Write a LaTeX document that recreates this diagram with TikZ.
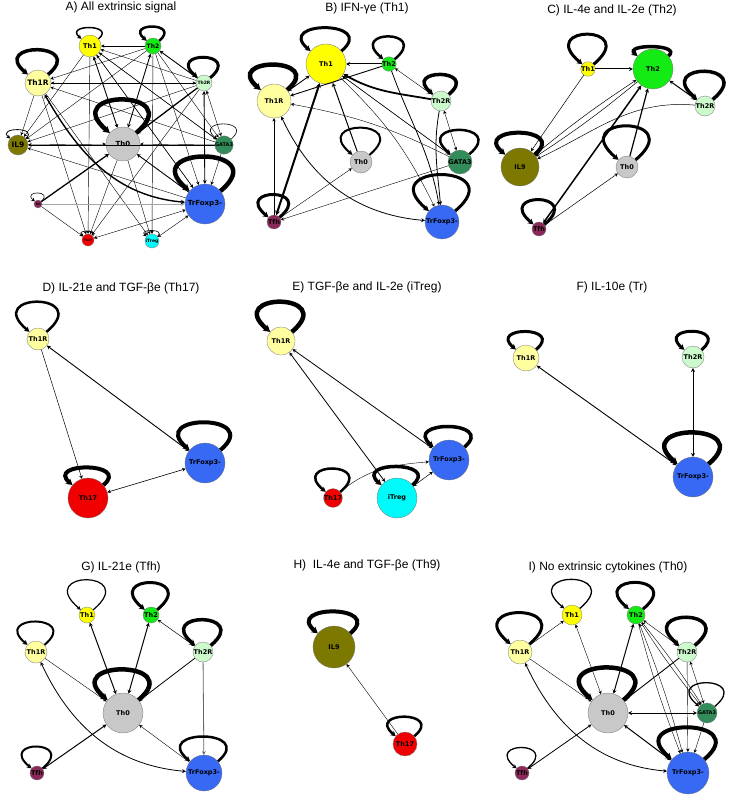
\documentclass[tikz,border=0pt]{standalone}
\usepackage{fontspec}
\setmainfont{Liberation Sans}
\newfontfamily\nodefont{DejaVu Sans}
\usetikzlibrary{arrows.meta}
\definecolor{cTh1}{RGB}{255,255,0}
\definecolor{cTh2}{RGB}{20,235,20}
\definecolor{cThIR}{RGB}{255,255,160}
\definecolor{cThIIR}{RGB}{205,250,205}
\definecolor{cIL9}{RGB}{125,120,0}
\definecolor{cTh0}{RGB}{200,200,200}
\definecolor{cGATA}{RGB}{50,140,90}
\definecolor{cTr}{RGB}{55,105,245}
\definecolor{cTfh}{RGB}{140,40,90}
\definecolor{cTh17}{RGB}{240,0,0}
\definecolor{cTreg}{RGB}{0,250,250}
\tikzset{
  cell/.style={circle, draw=black!55, line width=0.3pt, inner sep=0pt, minimum size=#1,
    font=\nodefont\bfseries\fontsize{6.5}{7}\selectfont},
  lbl/.style={font=\nodefont\bfseries\fontsize{#1}{#1}\selectfont},
  ttl/.style={font=\fontsize{12}{14}\selectfont},
  lnk/.style={line width=#1, ->},
  both/.style={line width=#1, <->},
  self/.style 2 args={line width=#1, out=40, in=140, distance=#2, ->},
}
\begin{document}
\begin{tikzpicture}[x=1pt, y=-1pt, >={Stealth[length=3pt 0.8, width=3pt 1]}]
\useasboundingbox (0,0) rectangle (730,800);

% A) all extrinsic signal
\node[ttl] (a-title) at (121,7) {A) All extrinsic signal};
\node[cell=22pt, fill=cTh1] (a-th1) at (90,46) {Th1};
\node[cell=16pt, fill=cTh2, lbl=6] (a-th2) at (153,46) {Th2};
\node[cell=26pt, fill=cThIR, lbl=7.5] (a-th1r) at (38,83) {Th1R};
\node[cell=16pt, fill=cThIIR, lbl=4.5] (a-th2r) at (204,83) {Th2R};
\node[cell=20pt, fill=cIL9, lbl=7.5] (a-il9) at (18,145) {IL9};
\node[cell=34pt, fill=cTh0, lbl=7] (a-th0) at (123,144) {Th0};
\node[cell=16pt, fill=cGATA, lbl=5] (a-gata3) at (224,145) {GATA3};
\node[cell=40pt, fill=cTr, lbl=7] (a-tr) at (205,204) {TrFoxp3-};
\node[cell=8pt, fill=cTfh, lbl=3] (a-tfh) at (38,204) {Tfh};
\node[cell=12pt, fill=cTh17, lbl=3] (a-th17) at (88,240) {Th17};
\node[cell=14pt, fill=cTreg, lbl=4.5] (a-itreg) at (152,241) {iTreg};
\draw[lnk=0.4pt] (a-th2) edge (a-th1) edge (a-th1r) edge (a-il9) edge (a-itreg) edge (a-tr) edge (a-gata3);
\draw[lnk=0.4pt] (a-th2r) edge (a-th1) edge (a-th1r) edge (a-il9) edge (a-th17);
\draw[lnk=0.4pt] (a-gata3) edge (a-th1) edge (a-th1r) edge (a-il9) edge (a-th0) edge (a-tr);
\draw[lnk=0.4pt] (a-th1) edge (a-il9) edge (a-th17) edge (a-tr) edge (a-gata3);
\draw[lnk=0.4pt] (a-th1r) edge (a-il9) edge (a-th17) edge (a-itreg) edge (a-th2r);
\draw[lnk=0.4pt] (a-tr) edge (a-il9) edge (a-th1);
\draw[lnk=0.4pt] (a-th0) edge (a-th17) edge (a-itreg);
\draw[lnk=0.4pt] (a-tfh) edge (a-th17);
\draw[both=0.4pt] (a-il9) edge (a-th0) (a-tr) edge (a-itreg) (a-th2r) edge (a-gata3) (a-th17) edge (a-tr);
\draw[both=0.9pt] (a-th1) edge (a-th0) (a-th2) edge (a-th0) (a-th2r) edge (a-tr);
\draw[lnk=0.9pt] (a-th2r) edge (a-th2) (a-tr) edge (a-th0);
\draw[lnk=1.3pt] (a-th2r) edge (a-th0) (a-tfh) edge (a-th0);
\draw[lnk=1pt, draw=black!35] (a-tfh) -- (a-tr);
\draw[both=1.4pt] (a-th1r) to[out=-60, in=175] (a-tr);
\draw[self={1.5pt}{23pt}] (a-th1) to (a-th1);
\draw[self={2.5pt}{29pt}] (a-th2) to (a-th2);
\draw[self={3.5pt}{51pt}] (a-th1r) to (a-th1r);
\draw[self={3pt}{42pt}] (a-th2r) to (a-th2r);
\draw[self={0.8pt}{18pt}] (a-il9) to (a-il9);
\draw[self={4.5pt}{69pt}] (a-th0) to (a-th0);
\draw[self={0.6pt}{31pt}] (a-gata3) to (a-gata3);
\draw[self={4.5pt}{71pt}] (a-tr) to (a-tr);
\draw[self={0.6pt}{17pt}] (a-tfh) to (a-tfh);
\draw[self={0.6pt}{10pt}] (a-th17) to (a-th17);
\draw[self={0.6pt}{12pt}] (a-itreg) to (a-itreg);

% B) IFN-ye
\node[ttl] (b-title) at (367,8) {B) IFN-γe (Th1)};
\node[cell=40pt, fill=cTh1] (b-th1) at (326,64) {Th1};
\node[cell=14pt, fill=cTh2] (b-th2) at (389,64) {Th2};
\node[cell=34pt, fill=cThIR] (b-th1r) at (274,101) {Th1R};
\node[cell=20pt, fill=cThIIR] (b-th2r) at (441,101) {Th2R};
\node[cell=22pt, fill=cTh0] (b-th0) at (361,162) {Th0};
\node[cell=24pt, fill=cGATA] (b-gata3) at (460,162) {GATA3};
\node[cell=14pt, fill=cTfh] (b-tfh) at (274,222) {Tfh};
\node[cell=34pt, fill=cTr] (b-tr) at (442,222) {TrFoxp3-};
\draw[lnk=1pt] (b-th2) edge (b-th1) (b-th0) edge (b-th1);
\draw[lnk=0.9pt] (b-th2) edge (b-th1r);
\draw[both=0.9pt] (b-th1r) edge (b-th1);
\draw[lnk=1.8pt] (b-th2r) to[out=170, in=-30] (b-th1);
\draw[lnk=0.4pt] (b-th2r) edge (b-th2) (b-gata3) edge (b-th1) (b-gata3) edge (b-tfh)
  (b-tfh) edge (b-th1r) (b-tfh) edge (b-th0) (b-th1) edge (b-gata3);
\draw[lnk=0.4pt] (b-gata3) to[bend right=8] (b-th1r);
\draw[lnk=0.4pt] (b-th1) to[bend left=10] (b-tr);
\draw[both=0.4pt] (b-th2r) edge (b-gata3);
\draw[lnk=0.8pt] (b-th2) to[out=-70, in=100] (b-tr);
\draw[lnk=0.8pt] (b-th2r) to[out=-100, in=95] (b-tr);
\draw[both=2pt] (b-tfh) -- (b-th1);
\draw[both=0.8pt] (b-th1r) to[out=-65, in=175] (b-tr);
\draw[self={3pt}{48pt}] (b-th1) to (b-th1);
\draw[self={2.5pt}{47pt}] (b-th2) to (b-th2);
\draw[self={4.5pt}{52pt}] (b-th1r) to (b-th1r);
\draw[self={3.5pt}{41pt}] (b-th2r) to (b-th2r);
\draw[self={2pt}{56pt}] (b-th0) to (b-th0);
\draw[self={2.5pt}{50pt}] (b-gata3) to (b-gata3);
\draw[self={3pt}{47pt}] (b-tfh) to (b-tfh);
\draw[self={3pt}{75pt}] (b-tr) to (b-tr);

% C) IL-4e and IL-2e
\node[ttl] (c-title) at (612,10) {C) IL-4e and IL-2e (Th2)};
\node[cell=12pt, fill=cTh1] (c-th1) at (588,69) {Th1};
\node[cell=40pt, fill=cTh2] (c-th2) at (653,69) {Th2};
\node[cell=20pt, fill=cThIIR] (c-th2r) at (705,106) {Th2R};
\node[cell=38pt, fill=cIL9] (c-il9) at (520,167) {IL9};
\node[cell=22pt, fill=cTh0] (c-th0) at (627,167) {Th0};
\node[cell=14pt, fill=cTfh] (c-tfh) at (539,229) {Tfh};
\draw[lnk=1pt] (c-th1) -- (c-th2);
\draw[lnk=0.5pt] (c-th1) edge (c-il9) (c-tfh) edge (c-th0);
\draw[lnk=0.5pt] (c-th2) to[bend left=3] (c-il9);
\draw[lnk=0.5pt] (c-il9) to[bend left=3] (c-th2);
\draw[both=1pt] (c-th2r) -- (c-th2);
\draw[lnk=0.5pt] (c-th2r) to[out=175, in=25] (c-il9);
\draw[lnk=1.2pt] (c-th0) -- (c-th2);
\draw[both=1.5pt] (c-tfh) -- (c-th2);
\draw[self={3pt}{62pt}] (c-th1) to (c-th1);
\draw[self={3.5pt}{19pt}] (c-th2) to (c-th2);
\draw[self={3.5pt}{58pt}] (c-th2r) to (c-th2r);
\draw[self={4pt}{45pt}] (c-il9) to (c-il9);
\draw[self={3pt}{70pt}] (c-th0) to (c-th0);
\draw[self={3pt}{51pt}] (c-tfh) to (c-tfh);

% D) IL-21e and TGF-be
\node[ttl] (d-title) at (121,288) {D) IL-21e and TGF-βe (Th17)};
\node[cell=22pt, fill=cThIR] (d-th1r) at (38,339) {Th1R};
\node[cell=40pt, fill=cTh17] (d-th17) at (88,498) {Th17};
\node[cell=40pt, fill=cTr] (d-tr) at (205,463) {TrFoxp3-};
\draw[lnk=0.5pt] (d-th1r) -- (d-th17);
\draw[both=0.9pt] (d-tr) -- (d-th1r);
\draw[both=0.6pt] (d-th17) -- (d-tr);
\draw[self={2.5pt}{62pt}] (d-th1r) to (d-th1r);
\draw[self={4pt}{36pt}] (d-th17) to (d-th17);
\draw[self={4pt}{57pt}] (d-tr) to (d-tr);

% E) TGF-be and IL-2e
\node[ttl] (e-title) at (367,287) {E) TGF-βe and IL-2e (iTreg)};
\node[cell=28pt, fill=cThIR] (e-th1r) at (281,341) {Th1R};
\node[cell=40pt, fill=cTr] (e-tr) at (449,460) {TrFoxp3-};
\node[cell=40pt, fill=cTreg] (e-itreg) at (397,498) {iTreg};
\node[cell=16pt, fill=cTh17] (e-th17) at (333,498) {Th17};
\draw[both=0.8pt] (e-th1r) edge (e-tr) (e-th1r) edge (e-itreg);
\draw[both=0.5pt] (e-itreg) -- (e-tr);
\draw[lnk=0.4pt] (e-th17) to[out=40, in=185] (e-tr);
\draw[self={4.5pt}{62pt}] (e-th1r) to (e-th1r);
\draw[self={3.5pt}{42pt}] (e-tr) to (e-tr);
\draw[self={3.5pt}{38pt}] (e-itreg) to (e-itreg);
\draw[self={2.5pt}{48pt}] (e-th17) to (e-th17);

% F) IL-10e
\node[ttl] (f-title) at (612,287) {F) IL-10e (Tr)};
\node[cell=26pt, fill=cThIR] (f-th1r) at (526,358) {Th1R};
\node[cell=22pt, fill=cThIIR] (f-th2r) at (693,357) {Th2R};
\node[cell=40pt, fill=cTr] (f-tr) at (693,477) {TrFoxp3-};
\draw[both=0.9pt] (f-tr) -- (f-th1r);
\draw[both=1pt] (f-th2r) -- (f-tr);
\draw[self={3pt}{37pt}] (f-th1r) to (f-th1r);
\draw[self={3pt}{38pt}] (f-th2r) to (f-th2r);
\draw[self={4.5pt}{65pt}] (f-tr) to (f-tr);

% G) IL-21e
\node[ttl] (g-title) at (121,567) {G) IL-21e (Tfh)};
\node[cell=16pt, fill=cTh1] (g-th1) at (87,615) {Th1};
\node[cell=16pt, fill=cTh2] (g-th2) at (151,615) {Th2};
\node[cell=22pt, fill=cThIR] (g-th1r) at (36,652) {Th1R};
\node[cell=20pt, fill=cThIIR] (g-th2r) at (203,652) {Th2R};
\node[cell=40pt, fill=cTh0] (g-th0) at (123,713) {Th0};
\node[cell=14pt, fill=cTfh] (g-tfh) at (37,773) {Tfh};
\node[cell=36pt, fill=cTr] (g-tr) at (204,773) {TrFoxp3-};
\draw[both=1pt] (g-th1) edge (g-th0) (g-th2) edge (g-th0) (g-tfh) edge (g-th0);
\draw[both=0.5pt] (g-th2) -- (g-th2r);
\draw[lnk=0.4pt] (g-th1r) edge (g-th0) (g-tr) edge (g-th0);
\draw[lnk=0.8pt] (g-th2r) -- (g-th0);
\draw[lnk=0.8pt, draw=black!60] (g-th2r) -- (g-tr);
\draw[both=0.8pt] (g-th1r) to[out=-65, in=175] (g-tr);
\draw[self={1.2pt}{62pt}] (g-th1) to (g-th1);
\draw[self={3pt}{56pt}] (g-th2) to (g-th2);
\draw[self={2pt}{48pt}] (g-th1r) to (g-th1r);
\draw[self={3.5pt}{53pt}] (g-th2r) to (g-th2r);
\draw[self={4.5pt}{63pt}] (g-th0) to (g-th0);
\draw[self={2pt}{45pt}] (g-tfh) to (g-tfh);
\draw[self={2.5pt}{51pt}] (g-tr) to (g-tr);

% H) IL-4e and TGF-be
\node[ttl] (h-title) at (367,565) {H)\ \ IL-4e and TGF-βe (Th9)};
\node[cell=42pt, fill=cIL9] (h-il9) at (334,647) {IL9};
\node[cell=24pt, fill=cTh17] (h-th17) at (405,744) {Th17};
\draw[lnk=0.4pt] (h-th17) -- (h-il9);
\draw[self={4pt}{45pt}] (h-il9) to (h-il9);
\draw[self={2.5pt}{40pt}] (h-th17) to (h-th17);

% I) no extrinsic cytokines
\node[ttl] (i-title) at (608,567) {I) No extrinsic cytokines (Th0)};
\node[cell=20pt, fill=cTh1] (i-th1) at (572,615) {Th1};
\node[cell=18pt, fill=cTh2] (i-th2) at (636,615) {Th2};
\node[cell=24pt, fill=cThIR] (i-th1r) at (520,652) {Th1R};
\node[cell=20pt, fill=cThIIR] (i-th2r) at (687,652) {Th2R};
\node[cell=40pt, fill=cTh0] (i-th0) at (608,713) {Th0};
\node[cell=20pt, fill=cGATA, lbl=5] (i-gata3) at (707,713) {GATA3};
\node[cell=14pt, fill=cTfh] (i-tfh) at (522,773) {Tfh};
\node[cell=42pt, fill=cTr] (i-tr) at (688,773) {TrFoxp3-};
\draw[lnk=0.4pt] (i-th1r) edge (i-th1) (i-th1r) edge (i-th0) (i-th2r) edge (i-tr) (i-gata3) edge (i-tr);
\draw[both=0.4pt] (i-th1) edge (i-th0) (i-th2) edge (i-th2r) (i-th2r) edge (i-gata3);
\draw[both=0.4pt] (i-th2) to[bend left=3] (i-gata3);
\draw[lnk=0.4pt] (i-th2) to[bend right=3] (i-gata3);
\draw[both=0.4pt] (i-th2) to[bend left=3] (i-tr);
\draw[lnk=0.4pt] (i-th2) to[bend right=3] (i-tr);
\draw[both=1pt] (i-th2) edge (i-th0) (i-gata3) edge (i-th0) (i-th0) edge (i-tr);
\draw[lnk=0.9pt] (i-th2r) -- (i-th0);
\draw[both=0.8pt] (i-tfh) -- (i-th0);
\draw[both=0.8pt] (i-th1r) to[out=-65, in=175] (i-tr);
\draw[self={1.3pt}{60pt}] (i-th1) to (i-th1);
\draw[self={3pt}{55pt}] (i-th2) to (i-th2);
\draw[self={3pt}{65pt}] (i-th1r) to (i-th1r);
\draw[self={3.5pt}{58pt}] (i-th2r) to (i-th2r);
\draw[self={4.5pt}{67pt}] (i-th0) to (i-th0);
\draw[self={1.3pt}{49pt}] (i-gata3) to (i-gata3);
\draw[self={1.3pt}{43pt}] (i-tfh) to (i-tfh);
\draw[self={4pt}{66pt}] (i-tr) to (i-tr);
\end{tikzpicture}
\end{document}
